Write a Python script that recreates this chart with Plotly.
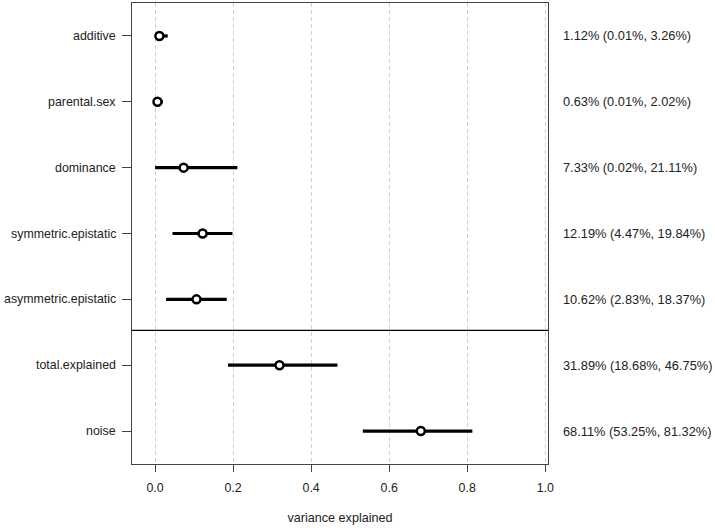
import plotly.graph_objects as go

components = [
    "additive",
    "parental.sex",
    "dominance",
    "symmetric.epistatic",
    "asymmetric.epistatic",
    "total.explained",
    "noise",
]
estimates = [1.12, 0.63, 7.33, 12.19, 10.62, 31.89, 68.11]
lower = [0.01, 0.01, 0.02, 4.47, 2.83, 18.68, 53.25]
upper = [3.26, 2.02, 21.11, 19.84, 18.37, 46.75, 81.32]
x_ticks = [0.0, 0.2, 0.4, 0.6, 0.8, 1.0]

n = len(components)
rows = [n - i for i in range(n)]
label_font = {"size": 12.4, "color": "#222"}
value_font = {"size": 12.8, "color": "#222"}

fig = go.Figure()

# interval segments
seg_x: list[float | None] = []
seg_y: list[float | None] = []
for row, lo, hi in zip(rows, lower, upper):
    seg_x.extend([lo / 100, hi / 100, None])
    seg_y.extend([row, row, None])
fig.add_trace(
    go.Scatter(
        x=seg_x,
        y=seg_y,
        mode="lines",
        line={"color": "black", "width": 3.2},
        hoverinfo="skip",
        showlegend=False,
    )
)
fig.add_trace(
    go.Scatter(
        x=[e / 100 for e in estimates],
        y=rows,
        mode="markers",
        marker={"symbol": "circle", "size": 8, "color": "white", "line": {"color": "black", "width": 2.5}},
        showlegend=False,
    )
)

for row, name, est, lo, hi in zip(rows, components, estimates, lower, upper):
    # component name left of the axis
    fig.add_annotation(
        x=0,
        xref="paper",
        y=row,
        yref="y",
        text=name,
        showarrow=False,
        xanchor="right",
        xshift=-15,
        borderpad=0,
        font=label_font,
    )
    # estimate with interval right of the plot
    fig.add_annotation(
        x=1,
        xref="paper",
        y=row,
        yref="y",
        text=f"{est:.2f}% ({lo:.2f}%, {hi:.2f}%)",
        showarrow=False,
        xanchor="left",
        xshift=14,
        borderpad=0,
        font=value_font,
    )

# separator between components and totals
fig.add_shape(
    type="line",
    xref="paper",
    x0=0,
    x1=1,
    yref="y",
    y0=2.53,
    y1=2.53,
    line={"color": "black", "width": 1.3},
)

fig.update_xaxes(
    range=[-0.059, 1.007],
    tickvals=x_ticks,
    ticktext=[f"{v:.1f}" for v in x_ticks],
    showgrid=True,
    gridcolor="#d0d0d0",
    griddash="4px,3px",
    gridwidth=1,
    zeroline=False,
    showline=True,
    linecolor="#444",
    linewidth=1,
    mirror=True,
    ticks="outside",
    ticklen=7,
    tickcolor="#444",
    ticklabelstandoff=5,
    tickfont=label_font,
    title={"text": "variance explained", "font": {"size": 12.6, "color": "#222"}, "standoff": 19},
)
fig.update_yaxes(
    range=[0.5, 7.5],
    tickvals=rows,
    showticklabels=False,
    showgrid=False,
    zeroline=False,
    showline=True,
    linecolor="#444",
    linewidth=1,
    mirror=True,
    ticks="outside",
    ticklen=9,
    tickcolor="#444",
)
fig.update_layout(
    width=715,
    height=528,
    margin={"l": 132, "r": 167, "t": 3, "b": 64},
    plot_bgcolor="white",
    paper_bgcolor="white",
    font={"family": "Liberation Sans, Arial, sans-serif"},
)

fig.write_html(
    "out.html",
    config={"displayModeBar": False},
    post_script="document.body.style.margin = '0';",
)
